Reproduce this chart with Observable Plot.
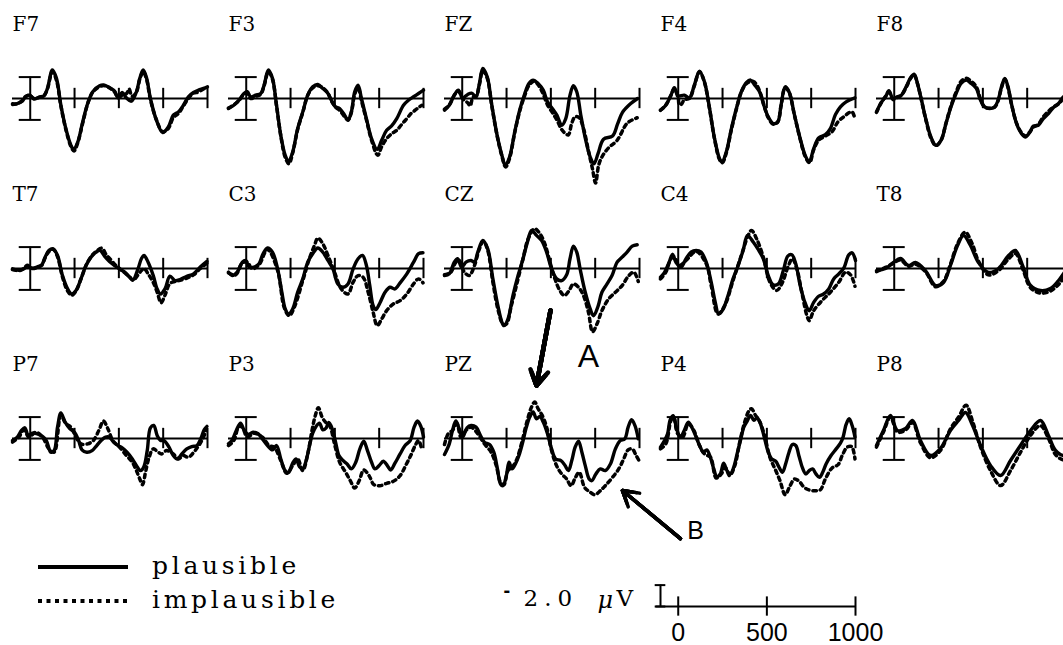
<!DOCTYPE html>
<html><head><meta charset="utf-8">
<script src="https://cdn.jsdelivr.net/npm/d3@7"></script>
<script src="https://cdn.jsdelivr.net/npm/@observablehq/plot@0.6"></script>
<style>
html,body{margin:0;padding:0;background:#fff;overflow:hidden;width:1063px;height:645px}
#fig{position:relative;width:1063px;height:645px;overflow:hidden;background:#fff}
#fig svg{overflow:visible}
.leg{position:absolute;font-family:"DejaVu Serif";font-size:25px;letter-spacing:3.7px;white-space:nowrap;color:#000}
</style></head><body><div id="fig"></div>
<script>
// ---- layout / labels ----
const layout = [["F7","F3","FZ","F4","F8"],["T7","C3","CZ","C4","T8"],["P7","P3","PZ","P4","P8"]];
const conditions = ["plausible","implausible"];
const timeTicks = [250,500,750,1000];      // ms
const scaleTicks = [0,500,1000];           // ms, calibration bar
const calibration = [-2,2];                // µV I-bar in each panel
const scaleLabel = "2.0";

// ---- waveforms: [time ms, amplitude µV] ----
const F7_plausible = [[-100,-0.56],[-73,-0.47],[-45,-0.25],[-26,0.16],[-3,0.31],[21,-0.06],[50,0.13],[78,0.25],[97,0.94],[125,2.66],[148,1.88],[173,-0.63],[201,-2.81],[230,-4.38],[245,-4.75],[267,-4.13],[296,-2.19],[324,-0.47],[353,0.63],[391,1.19],[419,1.25],[447,1.0],[476,0.69],[495,0.06],[519,0.56],[542,0.06],[570,-0.25],[599,0.63],[618,1.88],[637,2.66],[656,1.94],[678,0],[712,-2.03],[747,-3.19],[779,-2.66],[807,-1.56],[836,-1.25],[864,-0.63],[892,0.16],[921,0.56],[949,0.78],[978,0.94],[1000,1.09]];
const F7_implausible = [[-100,-0.5],[-73,-0.5],[-45,-0.2],[-26,0.2],[-3,0.3],[21,0],[50,0.1],[78,0.3],[97,0.9],[125,2.5],[148,1.7],[173,-0.7],[201,-2.9],[230,-4.5],[247,-4.9],[267,-4.2],[296,-2.3],[324,-0.5],[353,0.6],[391,1.1],[419,1.2],[447,1.0],[476,0.6],[495,0.1],[519,0.3],[545,0.5],[557,0.9],[575,0.2],[599,0.6],[618,1.8],[637,2.5],[656,1.8],[678,-0.1],[712,-2.0],[747,-3.1],[779,-2.8],[807,-1.8],[836,-1.4],[864,-0.7],[892,0.0],[921,0.5],[949,0.6],[978,0.9],[1000,1.0]];
const F3_plausible = [[-100,-0.94],[-70,-0.63],[-41,-0.16],[-13,0.47],[6,0.63],[25,0.16],[53,0.31],[82,0.47],[101,1.25],[125,2.66],[148,1.88],[171,-0.63],[195,-3.44],[220,-5.31],[239,-5.88],[262,-5.0],[290,-2.81],[319,-1.25],[347,0.31],[375,1.09],[404,1.31],[432,0.94],[461,0.47],[480,-0.16],[504,-0.78],[527,-0.94],[555,-1.56],[574,-2.03],[593,-1.25],[612,0.63],[631,1.25],[650,0],[678,-1.88],[707,-3.75],[739,-4.75],[764,-3.91],[792,-2.97],[820,-2.56],[849,-1.88],[887,-0.63],[915,-0.16],[944,0.16],[972,0.47],[1000,0.78]];
const F3_implausible = [[-100,-0.9],[-70,-0.6],[-41,-0.2],[-13,0.4],[6,0.5],[25,0.0],[53,0.2],[82,0.4],[101,1.2],[125,2.5],[148,1.8],[171,-0.7],[195,-3.5],[220,-5.5],[241,-6.1],[262,-5.1],[290,-2.9],[319,-1.3],[347,0.3],[375,1.0],[404,1.2],[432,1.0],[461,0.5],[480,-0.2],[504,-0.8],[527,-1.1],[555,-1.7],[574,-2.0],[593,-1.3],[612,0.4],[631,1.0],[650,-0.2],[678,-2.0],[707,-3.9],[742,-5.3],[764,-4.5],[792,-3.75],[820,-3.3],[849,-2.97],[878,-2.4],[906,-1.88],[930,-1.4],[953,-1.09],[975,-0.8],[991,-0.63]];
const FZ_plausible = [[-100,-1.09],[-73,-0.63],[-45,0.31],[-22,0.78],[2,0.06],[31,0.38],[53,0.5],[78,0.16],[97,1.41],[116,2.81],[141,2.03],[167,-0.63],[197,-3.44],[224,-5.31],[243,-6.25],[267,-5.47],[296,-3.13],[324,-1.09],[353,0.47],[376,1.41],[400,1.72],[428,1.41],[457,0.78],[481,-0.31],[508,-0.94],[534,-1.56],[561,-2.5],[584,-1.88],[608,0.31],[627,1.19],[646,0.63],[669,-1.56],[697,-3.91],[722,-5.47],[743,-6.1],[766,-5.16],[797,-3.8],[848,-3.5],[876,-2.4],[904,-1.3],[949,-0.5],[989,0]];
const FZ_implausible = [[-100,-1.0],[-73,-0.6],[-45,0.3],[-22,0.7],[2,0.0],[31,-0.4],[45,-0.7],[60,0.1],[78,0.2],[97,1.3],[116,2.6],[141,1.9],[167,-0.7],[197,-3.5],[224,-5.4],[245,-6.4],[267,-5.6],[296,-3.2],[324,-1.2],[353,0.3],[376,1.2],[405,1.6],[432,1.2],[457,0.4],[481,-0.6],[508,-1.3],[534,-2.0],[561,-2.9],[584,-3.3],[599,-3.4],[618,-2.3],[637,-1.7],[660,-1.8],[684,-2.8],[712,-4.9],[735,-6.6],[752,-7.9],[770,-6.2],[790,-5.4],[826,-4.6],[874,-3.9],[931,-2.3],[987,-1.8]];
const F4_plausible = [[-100,-1.09],[-70,-0.63],[-41,0.31],[-22,1.0],[0,0.25],[34,0.31],[63,0.06],[91,1.25],[120,2.56],[148,1.56],[177,-0.94],[205,-3.75],[233,-5.63],[247,-5.94],[271,-5.0],[300,-2.81],[328,-0.94],[356,0.63],[385,1.5],[408,1.72],[432,1.25],[461,0.56],[483,-0.63],[508,-1.72],[536,-2.34],[561,-2.19],[580,-0.63],[603,1.09],[625,0.63],[656,-1.56],[688,-3.75],[716,-5.31],[739,-5.94],[764,-4.69],[792,-3.69],[830,-3.38],[858,-2.81],[887,-1.5],[915,-0.78],[947,-0.31],[997,0.06]];
const F4_implausible = [[-100,-1.1],[-70,-0.6],[-41,0.3],[-22,0.9],[0,0.0],[6,-0.6],[20,-0.5],[34,-0.1],[63,0.0],[91,1.2],[120,2.5],[148,1.5],[177,-1.0],[205,-3.8],[233,-5.7],[249,-6.0],[271,-5.1],[300,-2.9],[328,-1.0],[356,0.6],[385,1.4],[423,1.6],[445,1.2],[461,0.6],[483,-0.6],[508,-1.8],[536,-2.4],[561,-2.2],[580,-0.7],[603,1.0],[625,0.6],[656,-1.6],[688,-3.8],[716,-5.4],[741,-6.0],[764,-4.8],[792,-3.9],[830,-3.5],[868,-3.1],[900,-2.2],[934,-1.7],[966,-1.3],[981,-1.25],[997,-1.9]];
const F8_plausible = [[-100,-1.25],[-77,-0.47],[-49,0.16],[-30,0.72],[-7,0],[17,0.16],[40,0.31],[69,1.16],[93,1.97],[112,2.28],[131,1.41],[154,-0.16],[180,-2.03],[207,-3.59],[235,-4.38],[264,-3.91],[292,-2.34],[320,-0.78],[349,0.47],[377,1.41],[406,1.72],[434,1.41],[463,0.94],[487,-0.16],[510,-0.78],[538,-0.94],[567,-0.78],[586,-0.16],[605,1.09],[624,1.88],[642,1.09],[661,-0.47],[690,-2.34],[718,-3.28],[741,-3.59],[766,-3.13],[784,-2.59],[813,-2.5],[841,-1.88],[870,-1.41],[898,-0.84],[927,-0.47],[955,0.16],[1000,0.6]];
const F8_implausible = [[-100,-1.3],[-77,-0.5],[-49,0.2],[-30,0.6],[-7,-0.1],[17,0.1],[40,0.3],[69,1.1],[93,1.9],[112,2.2],[131,1.4],[154,-0.2],[180,-2.1],[207,-3.7],[235,-4.4],[264,-3.9],[292,-2.3],[320,-0.7],[349,0.6],[377,1.6],[406,1.9],[434,1.6],[463,1.1],[487,-0.1],[510,-0.8],[538,-0.9],[567,-0.8],[586,-0.2],[605,1.0],[624,1.8],[642,1.0],[661,-0.5],[690,-2.3],[718,-3.2],[741,-3.5],[766,-3.1],[784,-2.7],[813,-2.4],[841,-1.7],[870,-1.2],[898,-0.8],[927,-0.5],[955,0.0],[1000,0.5]];
const T7_plausible = [[-100,-0.03],[-64,-0.16],[-36,-0.03],[-17,0.22],[12,0.03],[40,0.16],[65,0.34],[84,1.06],[106,1.69],[129,1.84],[154,1.22],[182,-0.66],[211,-1.91],[233,-2.38],[258,-2.06],[286,-0.97],[315,0.28],[343,1.06],[372,1.53],[394,1.69],[419,1.16],[447,0.66],[476,0.28],[504,-0.03],[533,-0.34],[561,-0.81],[580,-1.06],[608,-0.03],[627,0.91],[642,1.22],[665,0.59],[694,-0.66],[716,-1.91],[735,-2.38],[760,-1.91],[788,-0.72],[817,-1.13],[845,-1.03],[883,-0.72],[921,-0.5],[959,0.13],[997,0.66]];
const T7_implausible = [[-100,-0.1],[-64,-0.2],[-36,0.0],[-17,0.3],[12,0.0],[40,0.1],[65,0.3],[84,1.0],[106,1.6],[129,1.8],[154,1.1],[182,-0.8],[211,-2.1],[235,-2.5],[258,-2.1],[286,-1.0],[315,0.3],[343,1.1],[372,1.6],[404,1.9],[428,1.3],[450,0.9],[476,0.4],[504,0.0],[533,-0.4],[561,-0.8],[580,-1.1],[608,-0.6],[627,-0.2],[642,0.0],[665,-0.5],[694,-1.3],[716,-2.2],[738,-3.2],[760,-2.5],[788,-1.4],[817,-1.2],[845,-1.1],[883,-0.9],[921,-0.6],[959,0.0],[997,0.5]];
const C3_plausible = [[-100,-0.34],[-79,-0.66],[-51,-0.34],[-22,0.59],[-3,0.75],[16,0.13],[44,0.13],[72,0.44],[95,1.38],[120,1.91],[148,1.53],[177,-0.03],[201,-2.22],[220,-3.78],[239,-4.25],[262,-3.78],[290,-2.22],[319,-0.97],[347,0.59],[375,1.38],[404,1.91],[432,1.53],[461,0.75],[489,-0.03],[517,-1.44],[546,-1.75],[574,-1.44],[603,-0.03],[631,0.91],[656,1.22],[678,0.28],[697,-1.59],[716,-3.47],[731,-3.84],[754,-3.22],[783,-2.22],[811,-1.75],[839,-1.91],[868,-1.34],[906,-0.5],[944,0.59],[972,1.38],[997,1.47]];
const C3_implausible = [[-100,-0.41],[-60,-0.59],[-22,0.53],[6,0.59],[34,-0.03],[72,0.34],[120,1.78],[177,-0.19],[214,-3.63],[243,-4.41],[271,-3.63],[319,-1.13],[356,0.91],[385,2.16],[404,2.84],[432,2.31],[461,1.22],[498,-0.34],[536,-1.91],[574,-2.38],[603,-1.28],[631,-0.66],[659,-0.81],[688,-2.22],[716,-4.09],[739,-5.34],[764,-4.72],[792,-3.94],[830,-3.31],[868,-3.0],[906,-2.38],[944,-1.44],[972,-0.97],[997,-1.34]];
const CZ_plausible = [[-100,-0.66],[-73,-0.5],[-45,0.59],[-26,0.91],[-3,0.13],[21,0.59],[50,0.75],[69,0.59],[88,1.53],[116,2.63],[144,1.84],[173,-0.97],[201,-3.47],[224,-5.03],[235,-5.34],[258,-4.72],[286,-2.53],[315,-0.66],[343,0.91],[368,2.47],[391,3.56],[419,3.09],[447,2.63],[476,1.53],[504,-0.03],[533,-0.97],[561,-1.13],[589,-0.59],[608,0.91],[627,2.09],[646,1.53],[665,-0.03],[694,-2.22],[722,-3.78],[741,-4.41],[766,-3.53],[788,-2.22],[817,-1.44],[845,-0.66],[874,0.59],[902,1.06],[930,1.53],[959,2.09],[987,2.22]];
const CZ_implausible = [[-100,-0.59],[-64,-0.34],[-36,0.59],[-17,0.75],[12,-0.34],[40,-0.66],[69,0.28],[97,1.84],[120,2.53],[144,1.69],[173,-1.28],[201,-3.78],[230,-5.19],[249,-5.19],[277,-3.47],[315,-0.97],[343,0.91],[372,2.78],[409,3.72],[438,3.25],[466,2.31],[495,0.59],[523,-0.97],[551,-2.06],[576,-2.53],[603,-2.06],[627,-1.44],[656,-1.75],[684,-2.53],[712,-4.09],[735,-5.91],[760,-5.19],[788,-3.94],[826,-2.84],[864,-2.22],[902,-1.59],[940,-0.66],[968,-0.34],[993,-1.22]];
const C4_plausible = [[-100,-0.81],[-79,-0.41],[-51,0.59],[-32,1.34],[-13,0.59],[16,0.13],[44,0.91],[72,1.53],[101,1.69],[129,1.53],[158,0.59],[186,-1.28],[209,-3.16],[228,-4.25],[252,-3.84],[281,-2.53],[309,-0.97],[338,0.28],[366,1.69],[391,3.09],[423,2.47],[451,1.78],[480,0.91],[508,-0.66],[536,-1.53],[565,-1.44],[593,-0.19],[618,1.16],[641,1.28],[663,0.44],[688,-1.59],[716,-3.22],[739,-3.94],[764,-3.16],[792,-2.59],[820,-2.38],[849,-1.91],[877,-0.97],[906,-0.5],[934,0.03],[962,1.28],[981,1.47],[1000,0.75]];
const C4_implausible = [[-100,-0.97],[-70,-0.34],[-41,0.91],[-22,1.06],[6,0.28],[44,0.75],[101,1.59],[158,0.44],[186,-1.59],[224,-4.25],[262,-3.47],[309,-1.13],[356,1.22],[391,2.94],[413,3.56],[442,2.78],[480,1.06],[517,-1.28],[555,-2.06],[584,-1.44],[622,0.28],[644,0.91],[669,-0.03],[697,-2.22],[726,-4.41],[739,-4.88],[764,-3.94],[811,-3.0],[858,-2.22],[906,-1.28],[944,-0.34],[972,-0.59],[997,-1.66]];
const T8_plausible = [[-100,-0.2],[-49,0.0],[-4,0.56],[35,0.93],[80,0.28],[120,0.56],[176,-0.19],[233,-1.59],[278,-1.3],[317,0.28],[357,2.15],[391,3.08],[430,2.15],[475,0.56],[532,-0.37],[588,0.0],[645,1.21],[684,1.68],[724,0.28],[769,-1.59],[825,-2.06],[881,-1.87],[927,-1.12],[960,-0.37],[1000,0.3]];
const T8_implausible = [[-100,-0.3],[-49,0.1],[-4,0.5],[35,0.8],[80,0.2],[120,0.4],[176,-0.3],[233,-1.7],[278,-1.2],[317,0.4],[357,2.3],[400,3.4],[440,2.3],[475,0.7],[532,-0.6],[588,-0.2],[645,0.9],[684,1.4],[724,0.0],[769,-1.8],[825,-2.3],[881,-2.1],[927,-1.5],[960,-0.8],[1000,0.0]];
const P7_plausible = [[-100,-0.19],[-73,0.13],[-49,0.75],[-30,1.0],[-11,0.28],[12,0.5],[40,0.44],[69,0.19],[91,-0.19],[116,-1.28],[135,-1.13],[154,1.06],[173,2.38],[197,1.53],[224,0.91],[249,0.59],[273,-0.19],[292,-1.06],[319,-1.28],[349,-1.13],[375,-0.66],[400,-0.19],[425,0.13],[447,0.13],[470,-0.34],[495,-0.66],[519,-0.88],[546,-1.28],[576,-1.91],[603,-2.63],[622,-3.0],[641,-2.63],[660,-1.13],[678,1.0],[697,1.22],[716,0.28],[735,-0.19],[754,-0.19],[783,-0.81],[807,-1.59],[830,-1.91],[855,-1.44],[883,-0.97],[911,-0.75],[940,-0.66],[962,-0.03],[981,0.81],[997,1.13]];
const P7_implausible = [[-100,-0.34],[-64,0.13],[-36,0.81],[-7,0.13],[31,0.59],[69,0.13],[106,-0.97],[135,-1.28],[173,2.16],[201,1.38],[230,1.06],[258,0.13],[286,-0.5],[324,-0.5],[356,-0.19],[387,0.75],[413,1.63],[438,0.91],[466,-0.19],[504,-0.81],[542,-1.59],[576,-2.22],[603,-3.16],[618,-3.78],[633,-4.31],[652,-3.0],[671,-1.75],[694,-0.97],[722,-1.28],[741,-1.44],[769,-1.13],[807,-1.44],[836,-1.91],[864,-1.59],[892,-1.75],[930,-1.13],[968,-0.19],[993,0.75]];
const P3_plausible = [[-100,-0.5],[-79,-0.13],[-56,0.75],[-32,1.44],[-13,0.81],[12,0.38],[38,0.59],[67,0.44],[91,-0.03],[120,-0.66],[148,-1.06],[171,-0.66],[195,-1.91],[220,-3.0],[239,-3.16],[262,-2.31],[281,-1.91],[300,-2.63],[319,-2.84],[338,-2.06],[356,-0.75],[375,0.5],[394,1.13],[413,1.44],[432,0.81],[451,1.0],[466,1.5],[485,0.91],[504,-0.34],[523,-1.59],[546,-2.06],[569,-2.38],[593,-2.84],[618,-2.22],[641,-0.97],[663,-0.25],[684,-1.13],[707,-2.22],[726,-2.84],[750,-2.53],[773,-2.13],[796,-2.53],[815,-2.94],[839,-2.31],[868,-1.44],[896,-0.66],[925,-0.19],[947,1.06],[966,1.63],[985,1.13],[1000,0.13]];
const P3_implausible = [[-100,-0.66],[-70,-0.19],[-41,1.13],[-22,1.06],[6,0.13],[44,0.5],[91,0.13],[129,-0.66],[158,-0.81],[195,-2.06],[228,-3.25],[262,-2.53],[290,-1.91],[319,-3.0],[347,-1.44],[371,0.75],[390,2.16],[407,2.88],[428,2.0],[447,1.53],[470,1.22],[498,-0.5],[527,-2.22],[561,-3.16],[587,-3.94],[612,-4.63],[637,-3.94],[663,-2.94],[693,-3.47],[720,-4.31],[754,-4.41],[792,-4.19],[830,-4.0],[868,-3.47],[902,-2.44],[928,-1.59],[953,-0.66],[972,-0.19],[991,-1.06]];
const PZ_plausible = [[-100,-1.5],[-73,-0.5],[-55,0.75],[-36,1.63],[-17,0.91],[2,0.13],[27,1.0],[50,1.22],[78,1.06],[103,0.28],[125,-0.34],[154,-0.56],[178,-1.28],[197,-2.69],[216,-4.25],[230,-4.41],[249,-3.47],[264,-2.22],[281,-2.84],[300,-2.38],[320,-1.59],[339,-0.5],[362,1.06],[381,2.0],[400,2.47],[419,1.84],[438,2.06],[457,1.53],[481,0.44],[504,-0.97],[527,-1.91],[557,-2.06],[580,-2.53],[599,-3.0],[618,-2.06],[637,-0.81],[656,-0.25],[675,-1.28],[694,-2.53],[716,-3.78],[731,-3.94],[754,-3.31],[779,-2.84],[807,-3.0],[836,-2.38],[864,-0.97],[892,-0.19],[917,-0.03],[936,1.06],[955,1.75],[974,1.22],[993,-0.03]];
const PZ_implausible = [[-100,-0.56],[-79,0.44],[-55,0.75],[-30,1.38],[-7,0.13],[21,0.75],[50,1.06],[88,0.44],[125,-0.5],[163,-1.28],[192,-2.53],[216,-4.09],[235,-4.31],[258,-3.0],[281,-2.69],[305,-2.06],[334,-0.5],[362,1.38],[391,2.94],[409,3.41],[428,2.78],[451,2.16],[476,1.06],[504,-1.13],[532,-2.53],[561,-3.31],[589,-3.78],[614,-4.41],[637,-3.69],[660,-3.16],[690,-4.56],[716,-4.94],[747,-5.25],[779,-4.88],[807,-4.41],[845,-3.69],[883,-2.84],[911,-1.91],[936,-1.06],[959,-0.97],[981,-1.59],[997,-2.06]];
const P4_plausible = [[-100,-0.81],[-79,-0.25],[-60,0.44],[-45,1.75],[-28,2.13],[-9,0.91],[12,0.13],[34,0.75],[57,1.53],[78,1.0],[101,0.13],[123,-0.75],[142,-1.28],[161,-1.06],[180,-1.69],[199,-2.75],[218,-3.56],[237,-3.31],[256,-2.31],[275,-3.0],[294,-3.31],[313,-2.69],[332,-1.44],[351,-0.19],[370,1.06],[389,1.63],[408,2.16],[427,1.69],[445,1.94],[464,1.38],[483,0.28],[508,-1.28],[527,-1.91],[550,-2.13],[569,-2.69],[588,-3.16],[607,-2.31],[625,-1.28],[644,-0.56],[663,-0.66],[682,-1.69],[701,-2.75],[720,-3.31],[739,-3.0],[758,-2.84],[777,-3.31],[796,-3.63],[815,-3.16],[834,-2.38],[862,-1.59],[891,-0.97],[915,-0.44],[930,0.13],[947,1.31],[964,1.84],[981,1.22],[997,0.13]];
const P4_implausible = [[-100,-0.97],[-70,-0.5],[-41,1.69],[-26,2.0],[-3,0.44],[25,0.13],[57,1.38],[88,0.75],[120,-0.66],[148,-1.44],[182,-1.75],[214,-3.69],[243,-3.31],[265,-2.69],[290,-3.47],[319,-2.53],[347,-0.34],[375,1.53],[398,2.56],[413,2.78],[436,2.16],[461,1.53],[489,0.13],[517,-1.75],[546,-2.84],[574,-3.94],[603,-5.25],[631,-4.41],[656,-3.78],[682,-4.0],[710,-4.56],[739,-4.81],[773,-4.88],[801,-4.81],[830,-3.78],[868,-2.75],[902,-2.44],[925,-1.59],[953,-0.81],[978,-0.75],[997,-1.91]];
const P8_plausible = [[-100,-0.65],[-61,0.75],[-21,2.15],[18,0.75],[64,0.93],[103,1.68],[148,-0.19],[205,-1.59],[261,-0.93],[317,0.75],[363,1.68],[402,2.43],[442,1.21],[487,-0.65],[543,-2.52],[600,-3.46],[656,-2.06],[712,-0.65],[769,0.75],[825,1.68],[870,0.28],[910,-1.12],[955,-1.59],[1000,-1.2]];
const P8_implausible = [[-100,-0.8],[-61,0.6],[-21,2.0],[18,0.6],[64,0.8],[103,1.5],[148,-0.4],[205,-1.8],[261,-1.1],[317,0.9],[363,2.0],[405,3.1],[442,1.6],[487,-0.8],[543,-3.0],[600,-4.4],[656,-3.0],[712,-1.3],[769,0.3],[825,1.2],[870,0.0],[910,-1.5],[955,-2.0],[1000,-1.8]];

// ---- annotations (data units of the PZ panel) ----
const annotations = [
  {label: "A", from: [498, 11.96], to: [419, 4.95], at: [712, 7.66], size: 32},
  {label: "B", from: [1231, -9.35], to: [904, -4.86], at: [1316, -8.6], size: 25}
];

const series = {
  F7:[F7_plausible,F7_implausible], F3:[F3_plausible,F3_implausible], FZ:[FZ_plausible,FZ_implausible], F4:[F4_plausible,F4_implausible], F8:[F8_plausible,F8_implausible],
  T7:[T7_plausible,T7_implausible], C3:[C3_plausible,C3_implausible], CZ:[CZ_plausible,CZ_implausible], C4:[C4_plausible,C4_implausible], T8:[T8_plausible,T8_implausible],
  P7:[P7_plausible,P7_implausible], P3:[P3_plausible,P3_implausible], PZ:[PZ_plausible,PZ_implausible], P4:[P4_plausible,P4_implausible], P8:[P8_plausible,P8_implausible]
};

// ---- drawing ----
const fig = document.getElementById("fig");
const xDomain = [-100, 1000];
const yDomain = [-7.94, 7.94];
const DOT = "3.5,4";
const serif = "DejaVu Serif";
const sans = "Liberation Sans";

function place(el, left, top) {
  el.style.position = "absolute";
  el.style.left = left + "px";
  el.style.top = top + "px";
  fig.appendChild(el);
}

function panel(name, col, row) {
  const [pl, im] = series[name];
  const extra = [];
  if (name === "PZ") {
    for (const L of [26, 21, 16, 11, 6]) {
      extra.push(Plot.arrow(annotations, {x1: d => d.from[0], y1: d => d.from[1], x2: d => d.to[0], y2: d => d.to[1],
        stroke: "black", strokeWidth: d => d.label === "A" ? 4.5 : 3.5, headLength: L, headAngle: 62}));
    }
    extra.push(Plot.text(annotations, {x: d => d.at[0], y: d => d.at[1], text: "label", fontSize: d => d.size, fontFamily: sans, fill: "black"}));
  }
  const svg = Plot.plot({
    width: 195, height: 170,
    marginTop: 0, marginRight: 0, marginBottom: 0, marginLeft: 0,
    x: {domain: xDomain, axis: null},
    y: {domain: yDomain, axis: null},
    style: {background: "none", overflow: "visible"},
    marks: [
      Plot.ruleY([0], {stroke: "black", strokeWidth: 2}),
      Plot.ruleX(timeTicks, {y1: -0.95, y2: 0.95, stroke: "black", strokeWidth: 2}),
      Plot.ruleX([0], {y1: calibration[0], y2: calibration[1], stroke: "black", strokeWidth: 2}),
      Plot.ruleY(calibration, {x1: -62, x2: 62, stroke: "black", strokeWidth: 2}),
      Plot.line(im, {x: d => d[0], y: d => d[1], stroke: "black", strokeWidth: 3.5, strokeDasharray: DOT, curve: "catmull-rom"}),
      Plot.line(pl, {x: d => d[0], y: d => d[1], stroke: "black", strokeWidth: 3.4, curve: "catmull-rom"}),
      Plot.text([name], {x: -100, y: 6.95, text: d => d, textAnchor: "start", fontSize: 20, fontFamily: serif, fill: "black"}),
      ...extra
    ]
  });
  place(svg, 12 + 216 * col, 13 + 170 * row);
}

layout.forEach((r, row) => r.forEach((name, col) => { if (name !== "PZ") panel(name, col, row); }));
panel("PZ", 2, 2);

// calibration / time scale bar
const scale = Plot.plot({
  width: 1063, height: 115,
  marginTop: 0, marginBottom: 0, marginLeft: 660, marginRight: 208,
  x: {domain: xDomain, axis: null},
  y: {domain: [-3.64, 7.10], axis: null},
  style: {background: "none", overflow: "visible"},
  marks: [
    Plot.ruleY([0], {x1: -125, x2: 1000, stroke: "black", strokeWidth: 2}),
    Plot.ruleX(scaleTicks, {y1: -0.9, y2: 0.9, stroke: "black", strokeWidth: 2}),
    Plot.ruleX([-100], {y1: 0, y2: 2, stroke: "black", strokeWidth: 2}),
    Plot.ruleY([0, 2], {x1: -130, x2: -70, stroke: "black", strokeWidth: 2}),
    Plot.text(scaleTicks, {x: d => d, y: -2.5, text: d => String(d), fontSize: 25, fontFamily: sans, fill: "black"}),
    Plot.text(["-"], {x: -100, y: 1.45, dx: -157, text: d => d, textAnchor: "start", fontSize: 20, fontWeight: "bold", fontFamily: sans, fill: "black"}),
    Plot.text([scaleLabel], {x: -100, y: 0.75, dx: -137, text: d => d, textAnchor: "start", fontSize: 23, fontFamily: serif, fill: "black"}),
    Plot.text(["μ"], {x: -100, y: 0.6, dx: -63, text: d => d, textAnchor: "start", fontSize: 24, fontStyle: "italic", fontFamily: serif, fill: "black"}),
    Plot.text(["V"], {x: -100, y: 0.75, dx: -44, text: d => d, textAnchor: "start", fontSize: 23, fontFamily: serif, fill: "black"})
  ]
});
place(scale, 0, 530);
d3.select(scale).selectAll("text").filter(function() { return this.textContent === scaleLabel; }).style("letter-spacing", "6px");

// legend
const legendSvg = d3.create("svg").attr("width", 95).attr("height", 60);
conditions.forEach((c, i) => {
  legendSvg.append("line").attr("x1", 0).attr("x2", 90).attr("y1", 11 + i * 34).attr("y2", 11 + i * 34)
    .attr("stroke", "black").attr("stroke-width", 3.8).attr("stroke-dasharray", i === 0 ? null : "4,4.5");
});
place(legendSvg.node(), 38, 556);
conditions.forEach((c, i) => {
  const d = document.createElement("div");
  d.className = "leg";
  d.textContent = c;
  d.style.lineHeight = "30px";
  place(d, 152, 551 + i * 34);
});
</script></body></html>
